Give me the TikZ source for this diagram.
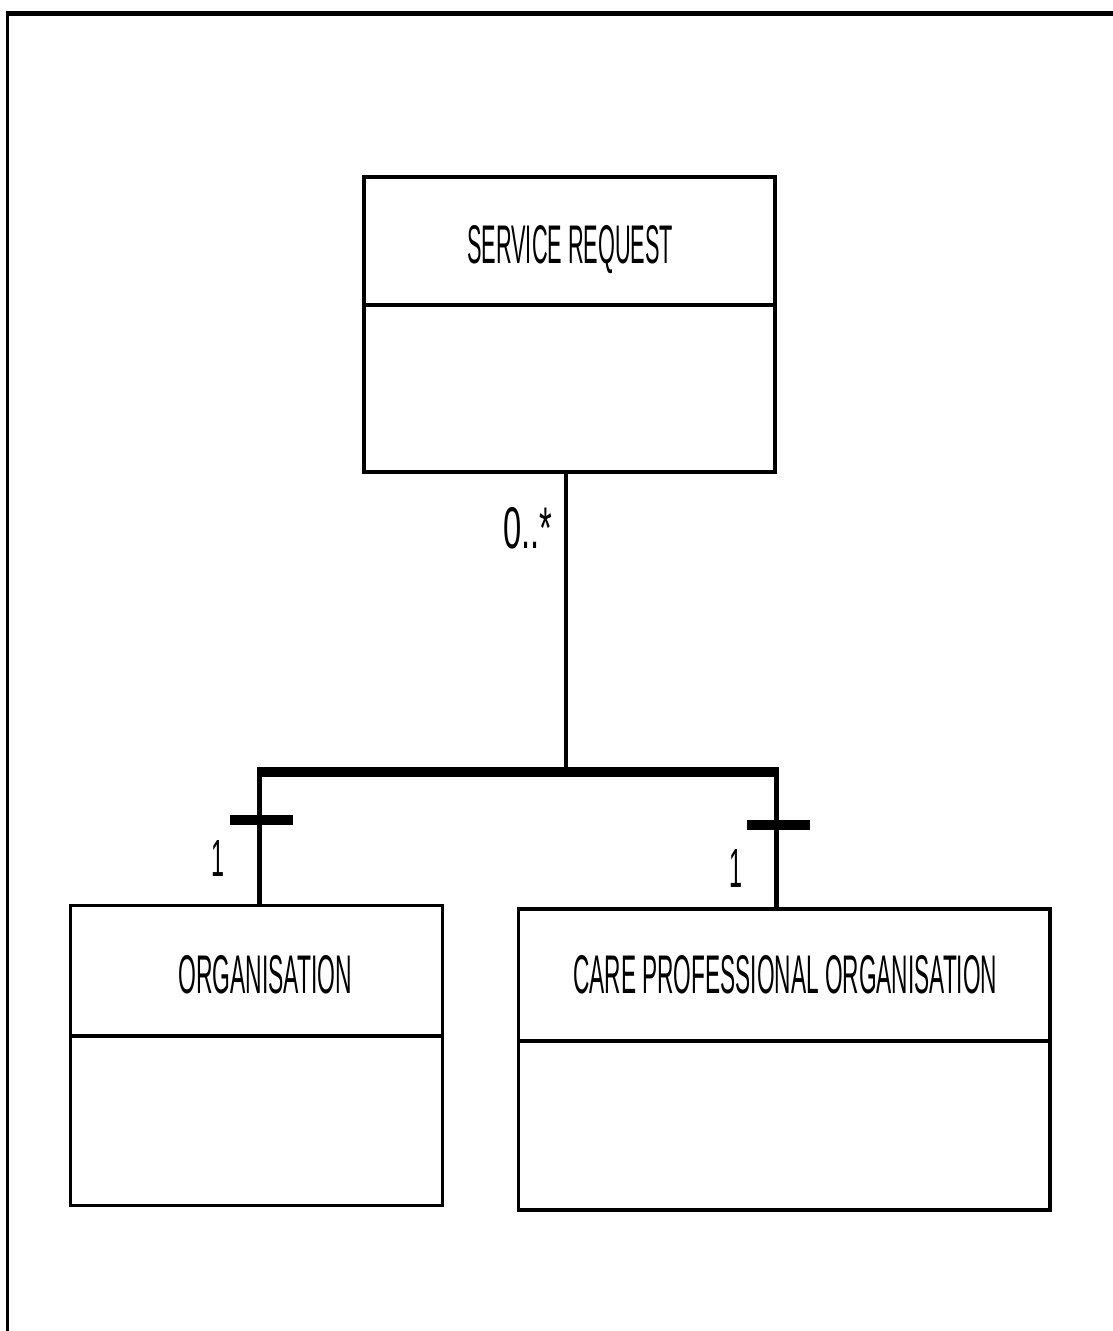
\documentclass[tikz,border=0pt]{standalone}
\usepackage{fontspec}
\setsansfont{Liberation Sans}
\usepackage{graphicx}
\newcommand{\lbl}[3]{\resizebox{#1pt}{#2pt}{\sffamily #3}}
\begin{document}
\begin{tikzpicture}[x=1pt,y=-1pt,
  umlbox/.style={draw=black,line width=3.5pt,inner sep=0pt,rectangle},
  divider/.style={line width=4pt},
  link/.style={line width=4.5pt},
  bar/.style={line width=10pt},
  txt/.style={inner sep=0pt,anchor=base west}]
\useasboundingbox (0,0) rectangle (1113,1331);
% frame
\draw[line width=5pt] (6,13.5) -- (1113,13.5);
\draw[line width=3pt] (7.5,11) -- (7.5,1331);
% boxes
\node[umlbox,minimum width=411pt,minimum height=295pt] (sr) at (569.5,324.5) {};
\node[umlbox,minimum width=372pt,minimum height=300pt] (org) at (256.5,1055.5) {};
\node[umlbox,minimum width=531.5pt,minimum height=301pt] (cpo) at (784.25,1059.5) {};
% dividers
\coordinate (srd) at (0,304.5);
\coordinate (orgd) at (0,1035.5);
\coordinate (cpod) at (0,1040.5);
\draw[divider] (sr.west |- srd) -- (sr.east |- srd);
\draw[divider] (org.west |- orgd) -- (org.east |- orgd);
\draw[divider] (cpo.west |- cpod) -- (cpo.east |- cpod);
% titles
\node[txt] (srt) at (467,263) {\lbl{206}{38}{SERVICE REQUEST}};
\node[txt] (orgt) at (178,993) {\lbl{174}{38}{ORGANISATION}};
\node[txt] (cpot) at (573,993) {\lbl{424}{38}{CARE PROFESSIONAL ORGANISATION}};
% connectors
\coordinate (j) at (566,772);
\coordinate (jl) at (259.5,772);
\coordinate (jr) at (776.5,772);
\coordinate (bl) at (257,772);
\coordinate (br) at (779,772);
\draw[link] (sr.south -| j) -- (j);
\draw[bar] (bl) -- (br);
\draw[line width=5pt] (jl) -- (org.north -| jl);
\draw[line width=5pt] (jr) -- (cpo.north -| jr);
% multiplicity bars
\coordinate (cl1) at (230,820);
\coordinate (cl2) at (293,820);
\coordinate (cr1) at (747,825);
\coordinate (cr2) at (810,825);
\draw[bar] (cl1) -- (cl2);
\draw[bar] (cr1) -- (cr2);
% multiplicity labels
\node[txt] (m0) at (503,548) {\lbl{49}{41}{0..*}};
\node[txt] (m1) at (211,876) {\lbl{13}{36}{1}};
\node[txt] (m2) at (729,887) {\lbl{13}{38}{1}};
\end{tikzpicture}
\end{document}
